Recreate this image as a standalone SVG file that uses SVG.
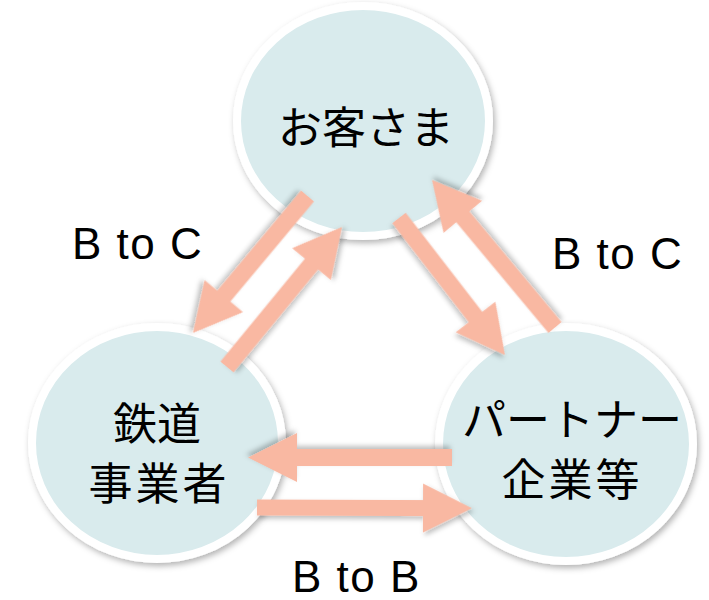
<svg xmlns="http://www.w3.org/2000/svg" width="709" height="600" viewBox="0 0 709 600">
<style>
.node ellipse{fill:#d9ebed;stroke:#ffffff;stroke-width:8;filter:url(#sh)}
.jp{font-family:"Noto Sans CJK JP","Noto Sans CJK SC",sans-serif;font-size:44px;fill:#000;text-anchor:middle}
.lbl{font-family:"Liberation Sans",Arial,sans-serif;font-size:44px;letter-spacing:1.5px;fill:#000}
.arr{fill:#f9b8a2;filter:url(#sha)}
</style>
<defs>
<filter id="sh" x="-20%" y="-20%" width="140%" height="140%">
<feDropShadow dx="2" dy="3" stdDeviation="3" flood-color="#000" flood-opacity="0.3"/>
</filter>
<filter id="sha" x="-20%" y="-30%" width="140%" height="160%">
<feDropShadow dx="2" dy="3" stdDeviation="2.5" flood-color="#000" flood-opacity="0.25"/>
</filter>
</defs>
<g id="node-customer" class="node">
<ellipse cx="363" cy="121" rx="126" ry="115"/>
<text class="jp" x="366" y="144">お客さま</text>
</g>
<g id="node-railway" class="node">
<ellipse cx="157" cy="443" rx="125" ry="116"/>
<text class="jp" x="157" y="440">鉄道</text>
<text class="jp" x="159" y="500" letter-spacing="3">事業者</text>
</g>
<g id="node-partner" class="node">
<ellipse cx="566" cy="444" rx="127" ry="117"/>
<text class="jp" x="572" y="436">パートナー</text>
<text class="jp" x="572" y="496" letter-spacing="3">企業等</text>
</g>
<g id="connectors">
<path class="arr" transform="translate(307.5,196) rotate(129.9)" d="M0,-8.5 L130.5,-8.5 L130.5,-25 L178.5,0 L130.5,25 L130.5,8.5 L0,8.5 Z"/>
<path class="arr" transform="translate(227,367) rotate(-50.6)" d="M0,-8.5 L133.2,-8.5 L133.2,-25 L181.2,0 L133.2,25 L133.2,8.5 L0,8.5 Z"/>
<path class="arr" transform="translate(399,218) rotate(52.3)" d="M0,-8.5 L125.2,-8.5 L125.2,-25 L173.2,0 L125.2,25 L125.2,8.5 L0,8.5 Z"/>
<path class="arr" transform="translate(555,327.5) rotate(-129.8)" d="M0,-8.5 L144.1,-8.5 L144.1,-25 L192.1,0 L144.1,25 L144.1,8.5 L0,8.5 Z"/>
<path class="arr" transform="translate(452,457.5) rotate(180)" d="M0,-8.5 L155,-8.5 L155,-24.5 L204,0 L155,24.5 L155,8.5 L0,8.5 Z"/>
<path class="arr" transform="translate(257,507.5) rotate(0.2)" d="M0,-8 L166,-8 L166,-24.5 L215,0 L166,24.5 L166,8 L0,8 Z"/>
</g>
<text class="lbl" x="72" y="259">B to C</text>
<text class="lbl" x="552" y="269">B to C</text>
<text class="lbl" x="292" y="592">B to B</text>
</svg>
